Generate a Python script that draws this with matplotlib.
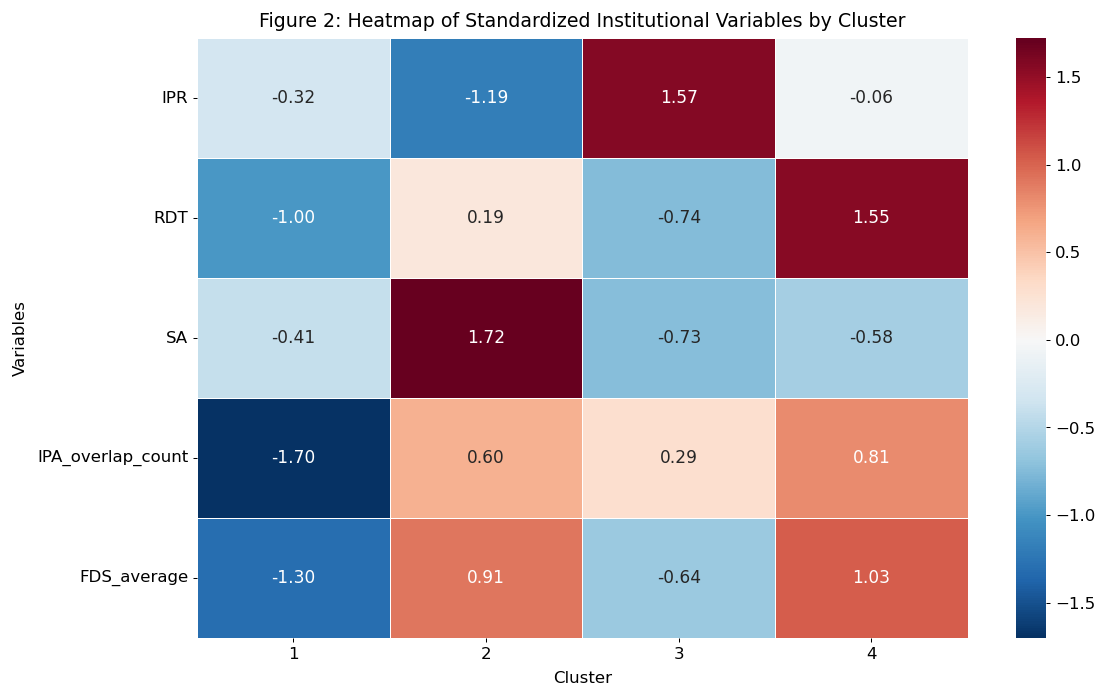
import numpy as np
import pandas as pd
import matplotlib
matplotlib.use("Agg")
import matplotlib.pyplot as plt
import seaborn as sns

# cluster means of the standardized variables
variables = ["IPR", "RDT", "SA", "IPA_overlap_count", "FDS_average"]
clusters = [1, 2, 3, 4]
ipr = [-0.32, -1.19, 1.57, -0.06]
rdt = [-1.00, 0.19, -0.74, 1.55]
sa = [-0.41, 1.72, -0.73, -0.58]
ipa_overlap = [-1.70, 0.60, 0.29, 0.81]
fds_avg = [-1.30, 0.91, -0.64, 1.03]

df = pd.DataFrame([ipr, rdt, sa, ipa_overlap, fds_avg], index=variables, columns=clusters)

fig = plt.figure(figsize=(12, 7.5), dpi=91.75)
ax = fig.add_axes([0.179, 0.073, 0.700, 0.871])
cax = fig.add_axes([0.923, 0.073, 0.027, 0.871])
sns.heatmap(df, annot=True, fmt=".2f", cmap="RdBu_r", center=0,
            linewidths=0.7, linecolor="white", annot_kws={"fontsize": 13.3},
            ax=ax, cbar_ax=cax)
ax.set_title("Figure 2: Heatmap of Standardized Institutional Variables by Cluster",
             fontsize=14.9, pad=9)
ax.set_xlabel("Cluster", fontsize=13, labelpad=7)
ax.set_ylabel("Variables", fontsize=13, labelpad=7)
ax.tick_params(labelsize=13)
ax.tick_params(axis="y", rotation=0)
cax.tick_params(labelsize=13)
plt.savefig("out.png")
